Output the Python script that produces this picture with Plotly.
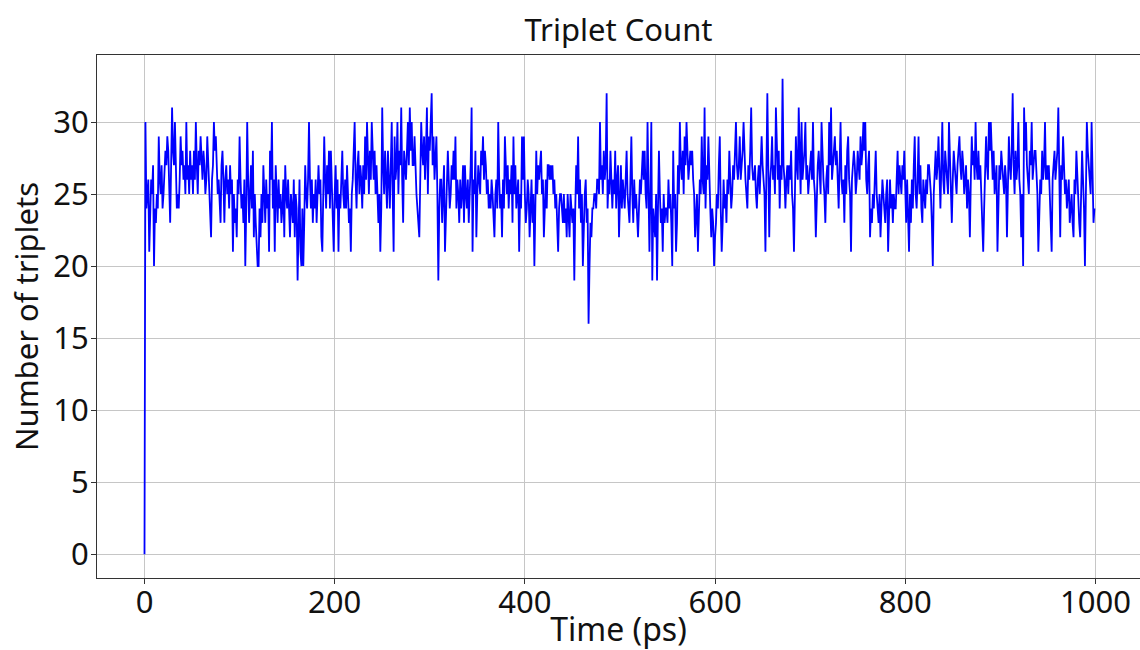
import plotly.graph_objects as go

# triplet count per 1 ps frame
triplet_counts = [
    0, 30, 24, 25, 26, 21, 24, 26, 25, 27, 20, 24, 23, 25, 24, 29, 26, 25, 27, 24, 25, 27, 28, 27, 29,
    28, 26, 23, 27, 31, 28, 27, 30, 27, 24, 25, 24, 26, 29, 27, 28, 26, 27, 25, 30, 26, 27, 25, 28, 26,
    27, 25, 28, 26, 30, 27, 25, 28, 27, 29, 27, 26, 28, 27, 25, 26, 29, 27, 25, 24, 22, 26, 27, 30, 28,
    29, 27, 25, 26, 24, 23, 27, 28, 26, 23, 26, 27, 25, 26, 24, 27, 25, 26, 21, 25, 23, 24, 22, 26, 25,
    29, 26, 24, 25, 23, 26, 20, 24, 30, 26, 23, 25, 27, 24, 28, 22, 25, 23, 21, 20, 20, 24, 22, 25, 23,
    27, 25, 23, 26, 24, 25, 21, 28, 26, 30, 24, 26, 21, 27, 25, 23, 26, 24, 25, 23, 24, 26, 22, 27, 25,
    24, 26, 23, 22, 25, 24, 23, 26, 22, 25, 24, 19, 23, 26, 21, 20, 24, 20, 23, 27, 25, 24, 26, 30, 26,
    24, 26, 23, 25, 24, 26, 23, 25, 27, 25, 26, 22, 21, 25, 29, 26, 24, 27, 25, 28, 24, 28, 25, 23, 21,
    25, 27, 24, 26, 21, 25, 24, 27, 28, 25, 24, 26, 24, 27, 25, 23, 24, 21, 25, 26, 28, 30, 26, 24, 27,
    28, 25, 27, 26, 24, 27, 25, 29, 26, 30, 27, 25, 28, 26, 30, 27, 26, 28, 25, 27, 24, 23, 25, 21, 24,
    31, 27, 25, 28, 26, 24, 28, 26, 24, 27, 30, 25, 21, 29, 26, 27, 30, 25, 28, 27, 31, 26, 23, 28, 27,
    26, 28, 30, 27, 31, 28, 30, 27, 27, 29, 26, 25, 24, 23, 22, 26, 30, 28, 27, 29, 26, 28, 31, 25, 29,
    28, 30, 32, 27, 29, 26, 28, 29, 25, 19, 24, 26, 26, 23, 25, 27, 21, 24, 25, 28, 26, 24, 25, 27, 26,
    28, 26, 29, 24, 26, 25, 23, 26, 24, 25, 27, 23, 27, 25, 24, 26, 23, 25, 27, 31, 21, 26, 25, 28, 22,
    25, 27, 26, 25, 28, 27, 29, 26, 28, 27, 25, 26, 24, 25, 24, 26, 25, 23, 22, 25, 26, 24, 30, 26, 24,
    25, 22, 26, 24, 29, 26, 25, 27, 24, 26, 25, 27, 23, 29, 25, 27, 24, 25, 26, 21, 25, 24, 29, 26, 29,
    25, 23, 24, 26, 25, 22, 24, 26, 23, 25, 20, 24, 28, 25, 27, 26, 27, 28, 25, 26, 22, 25, 26, 24, 27,
    27, 26, 27, 26, 27, 25, 26, 24, 25, 23, 21, 24, 25, 25, 24, 23, 25, 23, 24, 22, 25, 23, 22, 25, 24,
    23, 24, 19, 24, 27, 25, 29, 24, 26, 23, 25, 20, 24, 25, 26, 23, 24, 16, 20, 23, 22, 24, 24, 25, 25,
    24, 26, 26, 25, 30, 26, 27, 25, 28, 26, 27, 32, 24, 26, 25, 28, 25, 24, 26, 25, 28, 24, 26, 27, 22,
    25, 27, 24, 26, 25, 24, 26, 28, 25, 24, 23, 26, 29, 25, 23, 26, 24, 25, 23, 22, 24, 26, 25, 27, 28,
    26, 28, 25, 24, 30, 26, 21, 25, 30, 19, 24, 23, 22, 25, 19, 24, 28, 25, 23, 24, 21, 25, 23, 24, 24,
    23, 26, 24, 25, 23, 20, 28, 24, 25, 21, 23, 27, 25, 30, 27, 26, 28, 25, 29, 27, 30, 28, 26, 27, 28,
    27, 28, 26, 25, 22, 24, 25, 21, 24, 26, 25, 29, 26, 25, 31, 24, 27, 26, 29, 25, 24, 22, 24, 23, 20,
    22, 23, 25, 24, 27, 29, 24, 21, 23, 26, 24, 25, 23, 26, 25, 28, 26, 24, 25, 27, 26, 28, 30, 27, 26,
    27, 29, 26, 27, 28, 30, 27, 26, 25, 24, 27, 26, 28, 31, 27, 26, 26, 27, 25, 24, 26, 27, 25, 28, 29,
    27, 26, 25, 21, 26, 32, 27, 22, 26, 27, 29, 26, 27, 25, 31, 27, 26, 28, 24, 27, 26, 33, 27, 26, 24,
    26, 27, 25, 27, 26, 28, 25, 24, 21, 26, 29, 27, 26, 31, 27, 25, 30, 26, 27, 28, 30, 26, 27, 25, 26,
    27, 28, 26, 30, 26, 25, 22, 26, 27, 28, 26, 25, 30, 27, 26, 25, 23, 26, 27, 25, 30, 27, 31, 26, 27,
    28, 29, 27, 28, 26, 24, 27, 30, 26, 25, 26, 23, 27, 25, 28, 29, 26, 25, 21, 26, 27, 28, 27, 25, 26,
    28, 27, 26, 29, 27, 28, 30, 28, 30, 26, 25, 27, 28, 22, 24, 23, 25, 24, 26, 28, 25, 24, 23, 25, 22,
    24, 26, 25, 24, 23, 25, 26, 21, 25, 26, 24, 25, 23, 25, 24, 24, 26, 28, 25, 27, 26, 25, 27, 26, 28,
    25, 23, 26, 24, 21, 25, 23, 26, 24, 27, 29, 25, 24, 26, 29, 25, 27, 24, 23, 26, 25, 24, 26, 25, 27,
    27, 26, 25, 23, 20, 25, 27, 28, 26, 27, 29, 26, 24, 27, 30, 26, 25, 28, 27, 26, 25, 30, 28, 26, 23,
    26, 28, 27, 26, 25, 27, 28, 29, 27, 26, 28, 27, 25, 26, 27, 24, 26, 25, 22, 26, 29, 27, 28, 26, 30,
    27, 26, 28, 26, 27, 25, 24, 21, 24, 26, 29, 27, 26, 30, 28, 30, 27, 26, 28, 25, 26, 27, 21, 25, 27,
    26, 28, 27, 26, 25, 27, 26, 22, 26, 29, 27, 26, 28, 32, 27, 25, 28, 26, 27, 30, 26, 25, 22, 25, 20,
    31, 28, 30, 27, 26, 25, 28, 27, 30, 26, 27, 28, 28, 26, 25, 21, 24, 26, 25, 28, 26, 27, 30, 26, 27,
    26, 27, 25, 24, 21, 26, 27, 28, 26, 27, 28, 31, 26, 22, 27, 26, 29, 27, 25, 26, 24, 25, 26, 23, 24,
    25, 23, 22, 26, 25, 28, 26, 24, 23, 22, 25, 28, 26, 24, 20, 27, 30, 28, 27, 26, 25, 30, 26, 23, 24,
]
time_ps = list(range(len(triplet_counts)))  # one frame per ps

x_ticks = [0, 200, 400, 600, 800, 1000]
y_ticks = [0, 5, 10, 15, 20, 25, 30]

FONT = "Noto Sans"

fig = go.Figure()
fig.add_trace(go.Scatter(x=time_ps, y=triplet_counts, mode="lines",
                         line=dict(color="#0000ff", width=1.8), showlegend=False))

axis_style = dict(showline=True, mirror=True, linecolor="#333333", linewidth=1,
                  showgrid=True, gridcolor="#c6c6c6", gridwidth=1, zeroline=False,
                  ticks="outside", ticklen=5, tickcolor="#333333", automargin=False,
                  tickfont=dict(family=FONT, size=31, color="#111111"))

fig.update_xaxes(range=[-49.95, 1046.9], tickvals=x_ticks, ticklabelstandoff=-8,
                 title=dict(text="Time (ps)", font=dict(family=FONT, size=32, color="#111111"), standoff=0),
                 **axis_style)
fig.update_yaxes(range=[-1.65, 34.65], tickvals=y_ticks, ticklabelstandoff=-4,
                 title=dict(text="Number of triplets", font=dict(family=FONT, size=31, color="#111111"), standoff=5),
                 **axis_style)

fig.update_layout(
    width=1140, height=650,
    margin=dict(l=97, r=0, t=55, b=72, autoexpand=False),
    plot_bgcolor="white", paper_bgcolor="white",
    title=dict(text="Triplet Count", x=0.5, xref="paper", y=1 - 30 / 650, yref="container",
               yanchor="middle", font=dict(family=FONT, size=31, color="#111111")),
)

# drop the page's default body margin so the figure sits at the window's corner
fig.write_html("out.html", config={"displayModeBar": False},
               post_script="document.body.style.margin='0';document.body.style.overflow='hidden';")
